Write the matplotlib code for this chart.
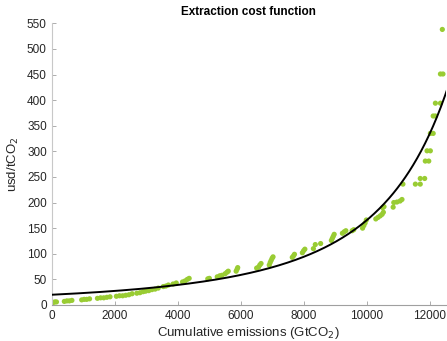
import numpy as np
import matplotlib
matplotlib.use("Agg")
import matplotlib.pyplot as plt

plt.rcParams['font.family'] = ['Liberation Sans', 'DejaVu Sans']

# cumulative emissions (GtCO2) and extraction cost (usd/tCO2)
emissions = [0, 50, 100, 150, 400, 480, 560, 640, 950, 1030, 1110, 1200,
             1450, 1550, 1650, 1750, 1850, 2050, 2150, 2250, 2350, 2450, 2550,
             2700, 2800, 2900, 2980, 3080, 3180, 3280, 3380, 3540, 3620, 3700,
             3850, 3950, 4150, 4230, 4300, 4360, 4950, 5000, 5250, 5330, 5400,
             5500, 5560, 5600, 5850, 5880, 5900, 6500, 6560, 6600, 6640,
             6900, 6930, 6960, 6990, 7020, 7630, 7670, 7700, 7950, 7990, 8030,
             8300, 8360, 8530, 8870, 8900, 8930, 8960, 9220, 9280, 9330,
             9530, 9580, 9860, 9900, 9940, 9980, 10280, 10350, 10420, 10480,
             10520, 10500, 10540, 10830, 10850, 10950, 11050, 11110,
             11140, 11535, 11690, 11690, 11830, 11850, 11960, 11905, 12010,
             12010, 12100, 12100, 12170, 12170, 12330, 12330, 12410, 12390]
cost = [5, 5, 6, 6, 7, 8, 8, 9, 10, 11, 11, 12,
        13, 14, 14, 15, 16, 17, 18, 18, 19, 20, 22,
        23, 24, 26, 27, 28, 30, 31, 33, 36, 37, 39,
        41, 43, 45, 47, 50, 52, 51, 52, 55, 57, 58,
        61, 64, 66, 66, 70, 73, 72, 74, 78, 81,
        78, 83, 87, 91, 94, 93, 96, 99, 102, 106, 109,
        110, 118, 120, 126, 130, 134, 138, 140, 143, 145,
        145, 147, 150, 155, 160, 166, 168, 171, 174, 177,
        181, 190, 192, 191, 200, 201, 203, 206,
        236, 236, 236, 247, 247, 281, 281, 301, 301,
        335, 335, 369, 369, 394, 394, 451, 451, 538]

# fitted cost curve: c0 * (K / (K - x)) ** n
c0 = 20.0
K = 19200.0
n = 2.876

fig = plt.figure(figsize=(4.47, 3.41), dpi=100)
ax = fig.add_axes([0.1157, 0.1056, 0.8816, 0.8261])

ax.scatter(emissions, cost, s=14, color='#99cc33', edgecolors='none', zorder=2)
xs = np.linspace(0, 12600, 400)
ax.plot(xs, c0 * (K / (K - xs)) ** n, color='black', lw=1.4, zorder=3)

ax.set_xlim(0, 12500)
ax.set_ylim(0, 550)
ax.set_xticks(np.arange(0, 12001, 2000))
ax.set_yticks(np.arange(0, 551, 50))

for s in ['top', 'right']:
    ax.spines[s].set_visible(False)
ax.spines['left'].set_color('#c8c8c8')
ax.spines['bottom'].set_color('#a0a0a0')
ax.tick_params(direction='in', length=3, width=0.6, colors='#a0a0a0',
               labelcolor='#262626', labelsize=8.5)

ax.set_title('Extraction cost function', fontsize=8.5, fontweight='bold', pad=6)
ax.set_xlabel('Cumulative emissions (GtCO$_2$)', fontsize=9.5, color='#262626', labelpad=2)
ax.set_ylabel('usd/tCO$_2$', fontsize=9.5, color='#262626', labelpad=4)

fig.savefig('out.png', dpi=100)
